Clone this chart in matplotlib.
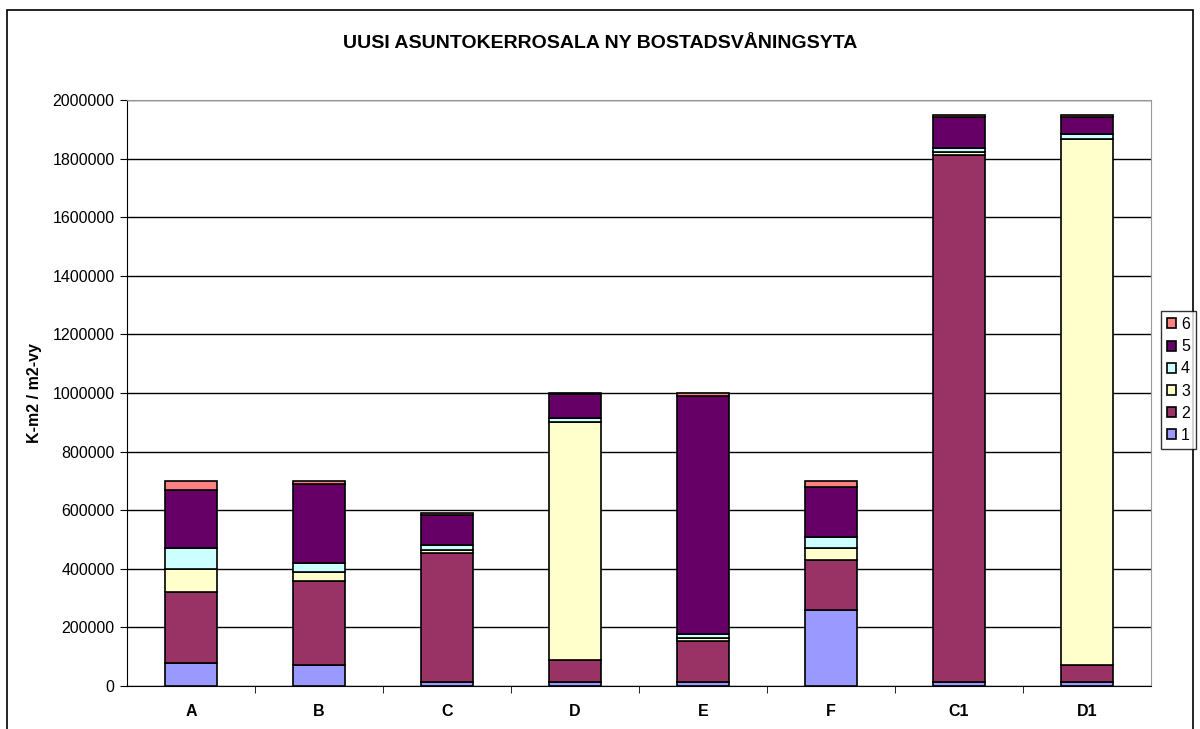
import numpy as np
import matplotlib
matplotlib.use("Agg")
import matplotlib.pyplot as plt
from matplotlib.patches import Rectangle

plt.rcParams['font.family'] = ['Liberation Sans', 'DejaVu Sans']

categories = ['A', 'B', 'C', 'D', 'E', 'F', 'C1', 'D1']
series_names = ['1', '2', '3', '4', '5', '6']
colors = ['#9999FF', '#993366', '#FFFFCC', '#CCFFFF', '#660066', '#FF8080']

# segment heights
s1 = [80000, 70000, 15000, 15000, 15000, 260000, 15000, 15000]
s2 = [240000, 290000, 440000, 75000, 140000, 170000, 1797000, 55000]
s3 = [80000, 30000, 10000, 810000, 8000, 40000, 10000, 1797000]
s4 = [70000, 30000, 15000, 15000, 15000, 40000, 14000, 16000]
s5 = [200000, 270000, 105000, 80000, 812000, 170000, 107000, 60000]
s6 = [30000, 10000, 5000, 5000, 10000, 20000, 7000, 7000]
series = [s1, s2, s3, s4, s5, s6]

fs = 11.5

fig = plt.figure(figsize=(12, 7.29), dpi=100)
fig.patches.append(Rectangle((0.006, -0.01), 0.988, 0.996, transform=fig.transFigure,
                             fill=False, edgecolor='black', linewidth=1.2))
ax = fig.add_axes([127 / 1200, 1 - 686 / 729, 1024 / 1200, 586 / 729])

x = np.arange(len(categories))
bottom = np.zeros(len(categories))
handles = []
for name, vals, c in zip(series_names, series, colors):
    h = ax.bar(x, vals, width=0.4, bottom=bottom, color=c, edgecolor='black',
               linewidth=1.2, label=name, zorder=3)
    handles.append(h)
    bottom += np.array(vals)

ax.set_xlim(-0.5, len(categories) - 0.5)
ax.set_ylim(0, 2000000)
ax.set_yticks(np.arange(0, 2000001, 200000))
ax.set_yticklabels([str(v) for v in range(0, 2000001, 200000)], fontsize=fs)
ax.set_xticks(x)
ax.set_xticklabels(categories, fontsize=fs, fontweight='bold')
ax.set_xticks(np.arange(0.5, len(categories) - 0.5, 1), minor=True)
ax.tick_params(axis='x', which='major', length=0, pad=13)
ax.tick_params(axis='x', which='minor', length=5, direction='out')
ax.tick_params(axis='y', length=5, direction='out', pad=4)
ax.yaxis.grid(True, color='black', linewidth=1, zorder=0)
ax.set_axisbelow(True)
for side in ['top', 'right']:
    ax.spines[side].set_color('#999999')
for side in ['left', 'bottom']:
    ax.spines[side].set_color('black')

ax.set_ylabel('K-m2 / m2-vy', fontsize=fs, fontweight='bold')
ax.yaxis.set_label_coords(-0.083, 0.5)
fig.text(0.5, 1 - 44 / 729, 'UUSI ASUNTOKERROSALA NY BOSTADSVÅNINGSYTA',
         ha='center', va='center', fontsize=14, fontweight='bold')

leg = fig.legend(handles[::-1], series_names[::-1], loc='center left',
                 bbox_to_anchor=(1161 / 1200, 1 - 380 / 729), fontsize=fs,
                 frameon=True, fancybox=False, edgecolor='black',
                 handlelength=0.6, handleheight=0.6, handletextpad=0.3,
                 labelspacing=0.45, borderpad=0.35, borderaxespad=0)
leg.get_frame().set_linewidth(1)

fig.savefig('out.png', dpi=100)
